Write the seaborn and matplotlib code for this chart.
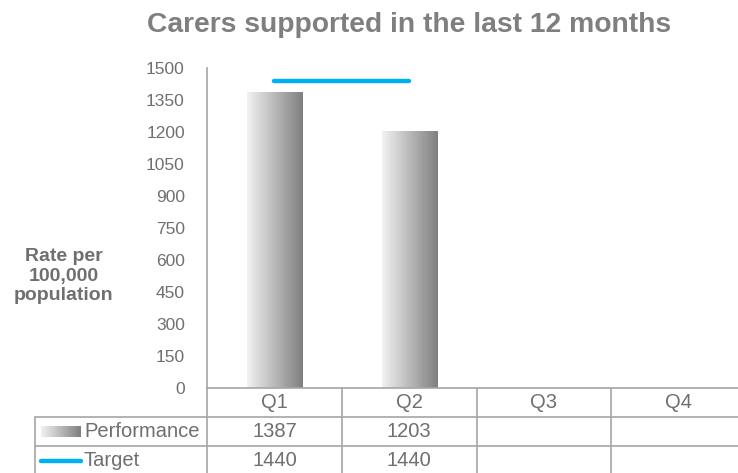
import numpy as np
import pandas as pd
import seaborn as sns
import matplotlib.pyplot as plt
from matplotlib.colors import LinearSegmentedColormap
from matplotlib.transforms import blended_transform_factory

quarters = ["Q1", "Q2", "Q3", "Q4"]
performance = [1387, 1203, None, None]
target = [1440, 1440, None, None]
y_ticks = list(range(0, 1501, 150))

title = "Carers supported in the last 12 months"
y_label = "Rate per\n100,000\npopulation"

sns.set_style("white")
plt.rcParams["font.family"] = ["Liberation Sans", "DejaVu Sans"]

grey_txt = "#6f6f6f"
line_col = "#a6a6a6"
blue = "#00b0f0"
grad = LinearSegmentedColormap.from_list("bar", ["#f2f2f2", "#7f7f7f"])

fig = plt.figure(figsize=(7.38, 4.73), dpi=100)
W, H = 738, 473
ax = fig.add_axes([207 / W, 85 / H, 539 / W, 320 / H])

df = pd.DataFrame({"quarter": quarters[:2], "value": performance[:2]})
sns.barplot(data=df, x="quarter", y="value", order=quarters, width=0.41, ax=ax)

# gradient fill on bars
g = np.linspace(0, 1, 256).reshape(1, -1)
for p in ax.patches:
    x0, y0 = p.get_x(), p.get_y()
    w, h = p.get_width(), p.get_height()
    if not np.isfinite(h) or h == 0:
        continue
    im = ax.imshow(g, cmap=grad, extent=[x0, x0 + w, y0, y0 + h], aspect="auto", zorder=2)
    im.set_clip_path(p)
    p.set_facecolor("none")
    p.set_edgecolor("none")

tx = [i for i, v in enumerate(target) if v is not None]
ty = [v for v in target if v is not None]
ax.plot(tx, ty, color=blue, lw=3.2, solid_capstyle="round", zorder=3)

ax.set_xlim(-0.5, 3.5)
ax.set_ylim(0, 1500)
ax.set_yticks(y_ticks)
ax.tick_params(axis="y", length=0, pad=16, labelsize=12.5, labelcolor=grey_txt)
ax.set_xticks([])
ax.set_xlabel("")
ax.set_ylabel("")
for s in ["top", "right"]:
    ax.spines[s].set_visible(False)
for s in ["left", "bottom"]:
    ax.spines[s].set_color(line_col)
    ax.spines[s].set_linewidth(1.2)

fig.text(409 / W, 1 - 32 / H, title, ha="center", va="baseline", fontsize=20.3,
         fontweight="bold", color="#7f7f7f")
fig.text(64 / W, 1 - 276 / H, y_label, ha="center", va="center", fontsize=14,
         fontweight="bold", color=grey_txt, linespacing=1.22)

# data table below the axis
tr = blended_transform_factory(ax.transData, fig.transFigure)
row_h = 29 / H
y_axis = 85 / H
rows_y = [y_axis - row_h * k for k in range(4)]
x_left = 35 / W
x_ax = 207 / W
x_right = 746 / W
lkw = dict(color=line_col, lw=1.2, clip_on=False)

for k in [1, 2]:
    fig.add_artist(plt.Line2D([x_left, x_right], [rows_y[k], rows_y[k]], **lkw))
fig.add_artist(plt.Line2D([x_left, x_left], [rows_y[1], rows_y[3]], **lkw))
fig.add_artist(plt.Line2D([x_ax, x_ax], [rows_y[0], rows_y[3]], **lkw))
for i in range(1, len(quarters) + 1):
    fig.add_artist(plt.Line2D([i - 0.5, i - 0.5], [rows_y[0], rows_y[3]],
                              transform=tr, **lkw))

fs = 14.5
for i, q in enumerate(quarters):
    mid = lambda k: (rows_y[k] + rows_y[k + 1]) / 2
    fig.text(i, mid(0), q, transform=tr, ha="center", va="center", fontsize=fs, color=grey_txt)
    if performance[i] is not None:
        fig.text(i, mid(1), str(performance[i]), transform=tr, ha="center", va="center",
                 fontsize=fs, color=grey_txt)
    if target[i] is not None:
        fig.text(i, mid(2), str(target[i]), transform=tr, ha="center", va="center",
                 fontsize=fs, color=grey_txt)

# legend keys in the row headers
y1 = (rows_y[1] + rows_y[2]) / 2
y2 = (rows_y[2] + rows_y[3]) / 2
kax = fig.add_axes([41 / W, y1 - 5.5 / H, 40 / W, 11 / H])
kax.imshow(g, cmap=grad, aspect="auto", extent=[0, 1, 0, 1])
kax.axis("off")
fig.add_artist(plt.Line2D([41 / W, 81 / W], [y2, y2], color=blue, lw=3.2,
                          solid_capstyle="round"))
fig.text(84 / W, y1, "Performance", ha="left", va="center", fontsize=fs, color=grey_txt)
fig.text(84 / W, y2, "Target", ha="left", va="center", fontsize=fs, color=grey_txt)

fig.savefig("out.png", dpi=100)
